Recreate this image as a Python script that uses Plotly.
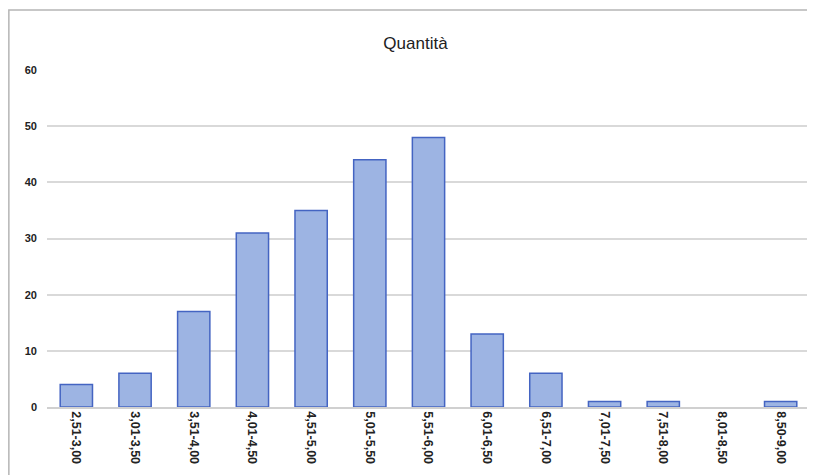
import plotly.graph_objects as go

categories = ["2,51-3,00", "3,01-3,50", "3,51-4,00", "4,01-4,50", "4,51-5,00",
              "5,01-5,50", "5,51-6,00", "6,01-6,50", "6,51-7,00", "7,01-7,50",
              "7,51-8,00", "8,01-8,50", "8,50-9,00"]
quantita = [4, 6, 17, 31, 35, 44, 48, 13, 6, 1, 1, 0, 1]
y_ticks = [0, 10, 20, 30, 40, 50, 60]

fig = go.Figure(go.Bar(
    x=categories, y=quantita,
    marker=dict(color="#9db4e3",
                line=dict(color="#4464c2", width=[1.5 if v > 0 else 0 for v in quantita])),
))

fig.update_layout(
    width=815, height=475,
    paper_bgcolor="white", plot_bgcolor="white",
    margin=dict(l=39, r=13, t=62, b=76),
    bargap=0.45,
    showlegend=False,
    title=dict(text="Quantità", x=0.5, xanchor="center", y=1 - 35 / 475, yanchor="middle",
               font=dict(family="Liberation Sans", size=17, color="#222")),
    font=dict(family="Liberation Sans", size=10, color="#333"),
    shapes=[dict(type="rect", xref="paper", yref="paper",
                 x0=-0.05, x1=1.03, y0=-0.4, y1=1.178,
                 line=dict(color="#b5b5b5", width=1.5), fillcolor="rgba(0,0,0,0)",
                 layer="below")],
)
fig.update_xaxes(tickangle=90, showgrid=False, showline=True, linecolor="#d0d0d0",
                 linewidth=1.5, ticks="",
                 tickfont=dict(size=12.5, color="#222", weight="bold"))
fig.update_yaxes(range=[0, 60], tickvals=y_ticks, showgrid=True, gridcolor="#d9d9d9",
                 gridwidth=1.5, zeroline=False, showline=False, ticks="",
                 ticklabelstandoff=9,
                 tickfont=dict(size=11, color="#222", weight="bold"))

fig.write_html("out.html")
